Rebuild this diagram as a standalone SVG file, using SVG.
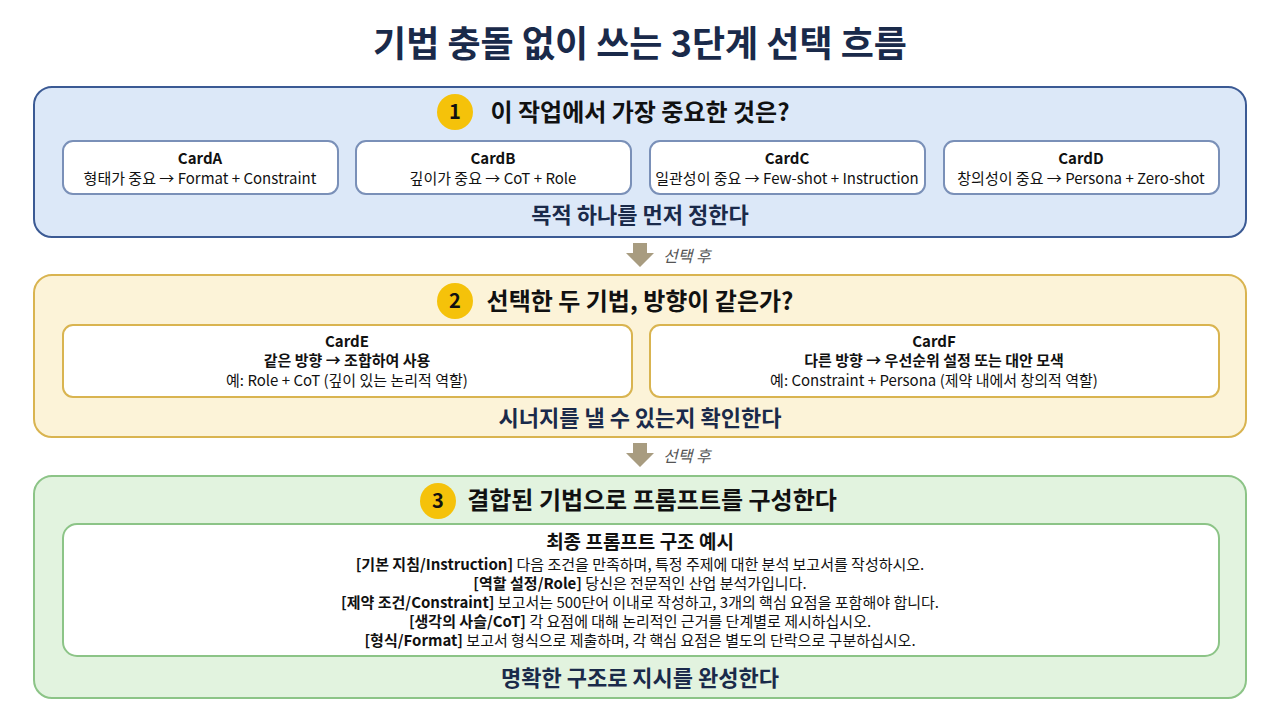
<svg xmlns="http://www.w3.org/2000/svg" width="1280" height="714" viewBox="0 0 1280 714">
<style>
text{font-family:"Noto Sans CJK KR","Noto Sans",sans-serif;text-anchor:middle;fill:#111}
.title{font-size:36px;font-weight:700;fill:#1a2a4a}
.h{font-size:24px;font-weight:700}
.foot{font-size:22px;font-weight:700;fill:#1a2a4a}
.card{fill:#fff;stroke-width:2}
.ct{font-size:15px;font-weight:700}
.cs{font-size:15px}
.num{font-size:20px;font-weight:700}
.lbl{font-size:16px;font-style:italic;fill:#555;text-anchor:start}
.p{font-size:15px}
.b{font-weight:700}
</style>
<rect width="1280" height="714" fill="#fff"/>
<text class="title" x="640" y="57">기법 충돌 없이 쓰는 3단계 선택 흐름</text>

<g id="stage1">
<rect x="34" y="87" width="1212" height="150" rx="18" fill="#dce8f8" stroke="#3b5a94" stroke-width="2"/>
<circle cx="455" cy="112" r="18" fill="#f5c20a"/>
<text class="num" x="455" y="119">1</text>
<text class="h" x="640" y="121">이 작업에서 가장 중요한 것은?</text>
<g id="cardA"><rect class="card" x="63" y="141" width="275" height="53" rx="10" stroke="#7a90b8"/><text class="ct" x="200" y="164">CardA</text><text class="cs" x="200" y="184">형태가 중요 → Format + Constraint</text></g>
<g id="cardB"><rect class="card" x="356" y="141" width="275" height="53" rx="10" stroke="#7a90b8"/><text class="ct" x="493" y="164">CardB</text><text class="cs" x="493" y="184">깊이가 중요 → CoT + Role</text></g>
<g id="cardC"><rect class="card" x="650" y="141" width="275" height="53" rx="10" stroke="#7a90b8"/><text class="ct" x="787" y="164">CardC</text><text class="cs" x="787" y="184">일관성이 중요 → Few-shot + Instruction</text></g>
<g id="cardD"><rect class="card" x="944" y="141" width="275" height="53" rx="10" stroke="#7a90b8"/><text class="ct" x="1081" y="164">CardD</text><text class="cs" x="1081" y="184">창의성이 중요 → Persona + Zero-shot</text></g>
<text class="foot" x="640" y="223">목적 하나를 먼저 정한다</text>
</g>

<g id="connectors">
<path d="M633 243h14v10h7l-14 14-14-14h7z" fill="#a89c80"/>
<text class="lbl" x="663" y="262">선택 후</text>
<path d="M633 443h14v10h7l-14 14-14-14h7z" fill="#a89c80"/>
<text class="lbl" x="663" y="462">선택 후</text>
</g>

<g id="stage2">
<rect x="34" y="275" width="1212" height="162" rx="18" fill="#fcf3d8" stroke="#d9b450" stroke-width="2"/>
<circle cx="455" cy="301" r="18" fill="#f5c20a"/>
<text class="num" x="455" y="308">2</text>
<text class="h" x="640" y="310">선택한 두 기법, 방향이 같은가?</text>
<g id="cardE"><rect class="card" x="63" y="325" width="569" height="72" rx="10" stroke="#d9b450"/><text class="ct" x="347" y="347">CardE</text><text class="ct" x="347" y="366">같은 방향 → 조합하여 사용</text><text class="cs" x="347" y="386">예: Role + CoT (깊이 있는 논리적 역할)</text></g>
<g id="cardF"><rect class="card" x="650" y="325" width="569" height="72" rx="10" stroke="#d9b450"/><text class="ct" x="934" y="347">CardF</text><text class="ct" x="934" y="366">다른 방향 → 우선순위 설정 또는 대안 모색</text><text class="cs" x="934" y="386">예: Constraint + Persona (제약 내에서 창의적 역할)</text></g>
<text class="foot" x="640" y="426">시너지를 낼 수 있는지 확인한다</text>
</g>

<g id="stage3">
<rect x="34" y="476" width="1212" height="222" rx="18" fill="#e2f3df" stroke="#8cc487" stroke-width="2"/>
<circle cx="438" cy="501" r="18" fill="#f5c20a"/>
<text class="num" x="438" y="508">3</text>
<text class="h" x="652" y="509">결합된 기법으로 프롬프트를 구성한다</text>
<g id="prompt">
<rect class="card" x="63" y="524" width="1156" height="132" rx="14" stroke="#8cc487"/>
<text x="640" y="549" style="font-size:19px;font-weight:700">최종 프롬프트 구조 예시</text>
<text class="p" x="640" y="570"><tspan class="b">[기본 지침/Instruction]</tspan> 다음 조건을 만족하며, 특정 주제에 대한 분석 보고서를 작성하시오.</text>
<text class="p" x="640" y="589"><tspan class="b">[역할 설정/Role]</tspan> 당신은 전문적인 산업 분석가입니다.</text>
<text class="p" x="640" y="608"><tspan class="b">[제약 조건/Constraint]</tspan> 보고서는 500단어 이내로 작성하고, 3개의 핵심 요점을 포함해야 합니다.</text>
<text class="p" x="640" y="627"><tspan class="b">[생각의 사슬/CoT]</tspan> 각 요점에 대해 논리적인 근거를 단계별로 제시하십시오.</text>
<text class="p" x="640" y="646"><tspan class="b">[형식/Format]</tspan> 보고서 형식으로 제출하며, 각 핵심 요점은 별도의 단락으로 구분하십시오.</text>
</g>
<text class="foot" x="640" y="686">명확한 구조로 지시를 완성한다</text>
</g>
</svg>
